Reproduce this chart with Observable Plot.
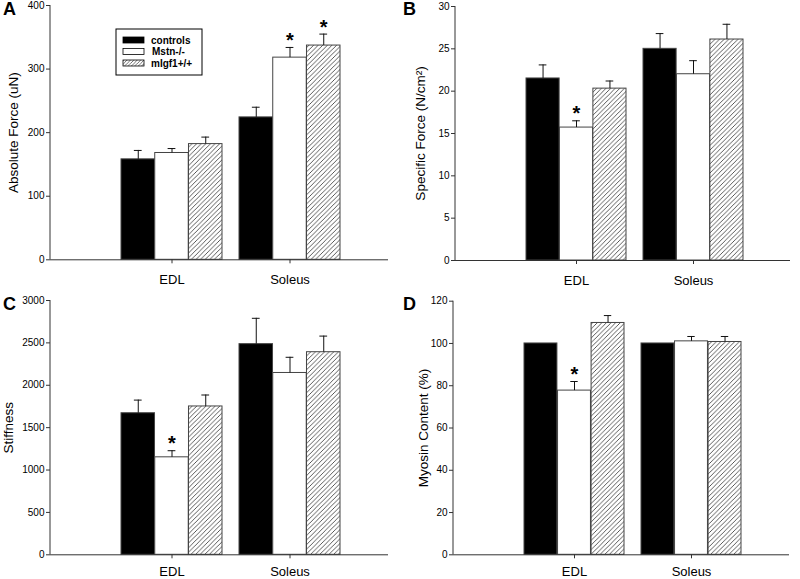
<!DOCTYPE html>
<html><head><meta charset="utf-8">
<script src="https://cdn.jsdelivr.net/npm/d3@7"></script>
<script src="https://cdn.jsdelivr.net/npm/@observablehq/plot@0.6"></script>
<style>
body{margin:0;background:#fff;}
#fig{position:relative;width:800px;height:579px;font-family:"Liberation Sans",Arial,sans-serif;overflow:hidden;background:#fff;color:#000}
.panel{position:absolute}
.letter{position:absolute;font-weight:bold;font-size:18px;line-height:18px;font-family:"Liberation Sans",Arial,sans-serif}
.legend{position:absolute}
</style></head><body><div id="fig"></div>
<script>
// ---- data ----
const muscles = ["EDL", "Soleus"];
const groups = ["controls", "Mstn-/-", "mIgf1+/+"];

// order: EDL controls, EDL Mstn, EDL mIgf, Soleus controls, Soleus Mstn, Soleus mIgf
const absForce    = [158, 168, 182, 224, 318, 337];
const absForceErr = [14, 7, 11, 16, 16, 18];
const absForceSig = [0, 0, 0, 0, 1, 1];

const specForce    = [21.5, 15.7, 20.3, 25.0, 22.0, 26.1];
const specForceErr = [1.6, 0.8, 0.9, 1.8, 1.6, 1.8];
const specForceSig = [0, 1, 0, 0, 0, 0];

const stiffness    = [1670, 1150, 1750, 2485, 2145, 2390];
const stiffnessErr = [155, 78, 135, 305, 185, 190];
const stiffnessSig = [0, 1, 0, 0, 0, 0];

const myosin    = [100, 77.7, 109.7, 100, 101, 100.7];
const myosinErr = [0, 4.3, 3.5, 0, 2.3, 2.6];
const myosinSig = [0, 1, 0, 0, 0, 0];

const ticksA = [0, 100, 200, 300, 400];
const ticksB = [0, 5, 10, 15, 20, 25, 30];
const ticksC = [0, 500, 1000, 1500, 2000, 2500, 3000];
const ticksD = [0, 20, 40, 60, 80, 100, 120];

function rows(values, errs, sig) {
  return values.map((v, i) => ({
    muscle: muscles[Math.floor(i / 3)], group: groups[i % 3], gi: i % 3,
    value: v, err: errs[i], sig: !!sig[i]
  }));
}

const panels = [
  {letter: "A", left: 0, top: 0, height: 290, mt: 5, mb: 30.7, ml: 50, mr: 12,
   data: rows(absForce, absForceErr, absForceSig), ticks: ticksA, label: "Absolute Force (uN)", labelDx: -37, pad: 10.5,
   lx: 3, ly: 0},
  {letter: "B", left: 400, top: 0, height: 290, mt: 6, mb: 30, ml: 55, mr: 10,
   data: rows(specForce, specForceErr, specForceSig), ticks: ticksB, label: "Specific Force (N/cm\u00B2)", labelDx: -35, pad: 11,
   lx: 403, ly: 0},
  {letter: "C", left: 0, top: 290, height: 289, mt: 10, mb: 24.7, ml: 50, mr: 12,
   data: rows(stiffness, stiffnessErr, stiffnessSig), ticks: ticksC, label: "Stiffness", labelDx: -42, pad: 7.8,
   lx: 3, ly: 295},
  {letter: "D", left: 400, top: 290, height: 289, mt: 10.7, mb: 24.7, ml: 53, mr: 11,
   data: rows(myosin, myosinErr, myosinSig), ticks: ticksD, label: "Myosin Content (%)", labelDx: -30, pad: 7.8,
   lx: 403, ly: 295}
];

const PI = 0.145, PO = 0.5, AL = 0.6;
const W = 400;
const fig = document.getElementById("fig");

panels.forEach((p, k) => {
  const pid = "hatch" + k;
  const xs = d3.scaleBand(muscles, [p.ml, W - p.mr]).paddingInner(PI).paddingOuter(PO).align(AL);
  const bw = xs.bandwidth();
  const sub = bw / 3;
  const fills = ["#000", "#fff", `url(#${pid})`];

  const marks = [];
  marks.push(() => {
    const defs = d3.create("svg:defs");
    const pat = defs.append("pattern").attr("id", pid).attr("patternUnits", "userSpaceOnUse")
      .attr("width", 4.6).attr("height", 4.6);
    pat.append("rect").attr("width", 4.6).attr("height", 4.6).attr("fill", "#fff");
    pat.append("path").attr("d", "M-1,5.6L5.6,-1M-1,1L1,-1M3.6,5.6L5.6,3.6")
      .attr("stroke", "#333").attr("stroke-width", 0.8);
    return defs.node();
  });
  groups.forEach((g, gi) => {
    marks.push(Plot.barY(p.data.filter(d => d.gi === gi), {
      x: "muscle", y: "value", fill: fills[gi], stroke: "#444", strokeWidth: 1,
      insetLeft: gi * sub, insetRight: (2 - gi) * sub
    }));
  });
  groups.forEach((g, gi) => {
    const dx = (gi - 1) * sub;
    const sel = p.data.filter(d => d.gi === gi && d.err > 0);
    marks.push(Plot.ruleX(sel, {x: "muscle", y1: "value", y2: d => d.value + d.err, dx, stroke: "#111", strokeWidth: 1}));
    marks.push(Plot.tickY(sel, {x: "muscle", y: d => d.value + d.err, dx, insetLeft: bw / 2 - 4, insetRight: bw / 2 - 4, stroke: "#111", strokeWidth: 1}));
    marks.push(Plot.text(p.data.filter(d => d.gi === gi && d.sig), {
      x: "muscle", y: d => d.value + d.err, text: () => "*", dx, dy: -7, fontSize: 20, fontWeight: "bold"
    }));
  });
  // axes
  marks.push(Plot.ruleY([p.ticks[0]], {stroke: "#333", strokeWidth: 1}));
  marks.push((index, scales, values, dims) => {
    return d3.create("svg:line")
      .attr("x1", dims.marginLeft).attr("x2", dims.marginLeft)
      .attr("y1", dims.marginTop).attr("y2", dims.height - dims.marginBottom)
      .attr("stroke", "#333").node();
  });
  marks.push(Plot.axisY({ticks: p.ticks, tickSize: 4, tickPadding: 2, tickFormat: d3.format("d"), label: null, fontSize: 10, stroke: "#333"}));
  marks.push(Plot.axisX({tickSize: 4, tickPadding: p.pad, label: null, fontSize: 13, stroke: "#333"}));
  marks.push(Plot.text([p.label], {text: d => d, frameAnchor: "left", textAnchor: "middle", rotate: -90, dx: p.labelDx, fontSize: 13.5}));

  const chart = Plot.plot({
    width: W, height: p.height,
    marginLeft: p.ml, marginRight: p.mr, marginTop: p.mt, marginBottom: p.mb,
    x: {type: "band", domain: muscles, paddingInner: PI, paddingOuter: PO, align: AL, axis: null},
    y: {domain: [p.ticks[0], p.ticks[p.ticks.length - 1]], axis: null},
    style: {fontFamily: "'Liberation Sans', Arial, sans-serif", background: "transparent", color: "#000", overflow: "visible"},
    marks
  });
  const wrap = document.createElement("div");
  wrap.className = "panel";
  wrap.style.left = p.left + "px";
  wrap.style.top = p.top + "px";
  wrap.appendChild(chart);
  fig.appendChild(wrap);

  const lt = document.createElement("div");
  lt.className = "letter";
  lt.style.left = p.lx + "px";
  lt.style.top = p.ly + "px";
  lt.textContent = p.letter;
  fig.appendChild(lt);
});

// legend (panel A)
const lg = d3.create("svg").attr("class", "legend").attr("width", 88).attr("height", 48)
  .style("left", "115px").style("top", "28px");
const ldefs = lg.append("defs").append("pattern").attr("id", "hatchL").attr("patternUnits", "userSpaceOnUse")
  .attr("width", 3.4).attr("height", 3.4);
ldefs.append("rect").attr("width", 3.4).attr("height", 3.4).attr("fill", "#fff");
ldefs.append("path").attr("d", "M-1,4.4L4.4,-1M-1,1L1,-1M2.4,4.4L4.4,2.4").attr("stroke", "#333").attr("stroke-width", 0.7);
lg.append("rect").attr("x", 1).attr("y", 1).attr("width", 86).attr("height", 46).attr("fill", "#fff").attr("stroke", "#000");
const lfills = ["#000", "#fff", "url(#hatchL)"];
groups.forEach((g, i) => {
  const cy = 12 + i * 11.5;
  lg.append("rect").attr("x", 8).attr("y", cy - 3).attr("width", 21).attr("height", 6)
    .attr("fill", lfills[i]).attr("stroke", "#000").attr("stroke-width", 0.8);
  lg.append("text").attr("x", i === 1 ? 37 : 36).attr("y", cy + 3.5).text(g)
    .attr("font-size", 10).attr("font-weight", "bold").attr("font-family", "'Liberation Sans', Arial, sans-serif");
});
fig.appendChild(lg.node());
</script>
</body></html>
